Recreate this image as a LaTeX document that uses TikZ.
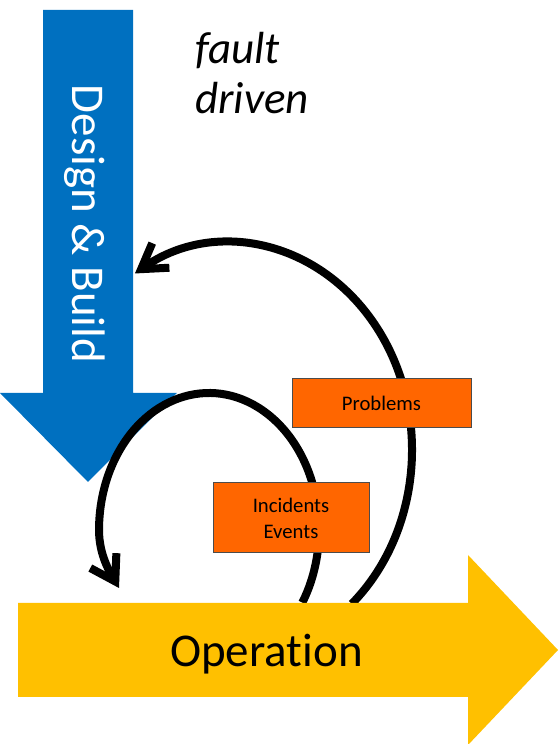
\documentclass[tikz,border=0pt]{standalone}
\usepackage{fontspec}
\setmainfont{Carlito}[Ligatures={NoCommon}]
\usetikzlibrary{arrows.meta}
\definecolor{designblue}{HTML}{0070C0}
\definecolor{opyellow}{HTML}{FFC000}
\definecolor{boxorange}{HTML}{FF6600}
\tikzset{
  bigtext/.style={inner sep=0pt, font=\fontsize{47}{56}\selectfont},
  notetext/.style={inner sep=0pt, font=\fontsize{45}{52}\selectfont\itshape},
  stagebox/.style={draw=black!70, line width=1pt, fill=boxorange, inner sep=0pt,
    align=center, font=\fontsize{20.7}{26}\selectfont},
  loopline/.style={line width=8pt, draw=black,
    -{Straight Barb[length=24pt, width=30pt]}},
}
\begin{document}
\begin{tikzpicture}[x=1pt, y=1pt]
\useasboundingbox (0,0) rectangle (558,744);

% Design & Build: downward block arrow
\fill[designblue] (43,734) -- (133,734) -- (133,351) -- (177,351)
  -- (88,262) -- (0,351) -- (43,351) -- cycle;
\node[bigtext, text=white, rotate=-90] (design) at (85,520) {Design \& Build};
\coordinate (designIn) at (135,465);

% free labels
\node[notetext, anchor=base west] (fault) at (195,680) {fault};
\node[notetext, anchor=base west] (driven) at (195,630) {driven};

% feedback loops leaving the operation arrow
\coordinate (opOut) at (351.8,140.2);
\coordinate (opIn) at (302.3,141.4);
\draw[loopline] (opOut) arc[start angle=-48, end angle=121.5, x radius=182, y radius=207];
\draw[loopline] (opIn) arc[start angle=-32, end angle=180, x radius=110, y radius=137]
  .. controls +(0,-26) and +(-8,14) .. (119,156);

% Operation: rightward block arrow
\fill[opyellow] (18,141) -- (468,141) -- (468,189) -- (558,94)
  -- (468,-1) -- (468,47) -- (18,47) -- cycle;
\node[bigtext, anchor=base] (operation) at (266.5,77) {Operation};

% stage boxes on the loops
\node[stagebox, minimum width=179pt, minimum height=49pt] (problems) at (381.5,340.5) {Problems};
\node[stagebox, minimum width=156pt, minimum height=70pt] (incidents) at (291,226) {Incidents\\Events};
\end{tikzpicture}
\end{document}
